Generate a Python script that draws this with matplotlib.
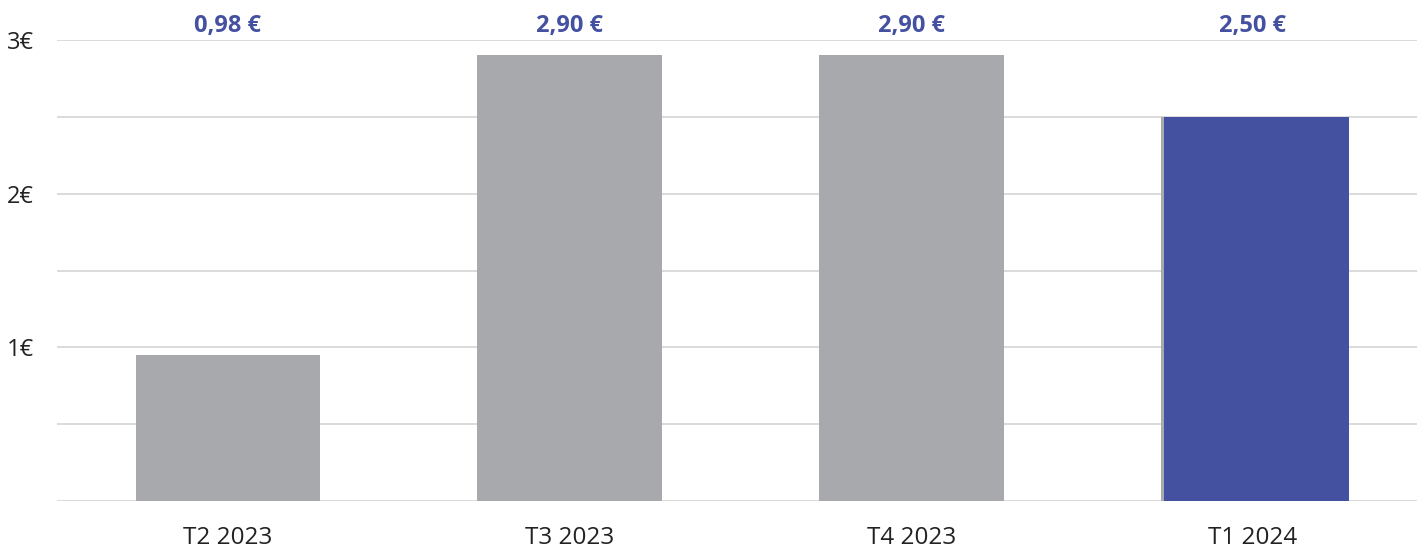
import matplotlib.pyplot as plt
import numpy as np

quarters = ["T2 2023", "T3 2023", "T4 2023", "T1 2024"]
values = [0.95, 2.90, 2.90, 2.50]
value_labels = ["0,98 €", "2,90 €", "2,90 €", "2,50 €"]
highlight = 3

plt.rcParams['font.family'] = ['Open Sans', 'DejaVu Sans']

fig = plt.figure(figsize=(14.17, 5.48), dpi=100)
ax = fig.add_axes([57 / 1417, 1 - 501 / 548, 1 - 57 / 1417, (501 - 40) / 548])

x = np.arange(len(quarters))
grey = "#a8a9ad"
blue = "#4451a0"
ax.bar(x, values, width=0.54, color=grey, zorder=2)
# highlighted quarter drawn over a grey bar, shifted a hair so the grey edge shows
ax.bar(x[highlight] + 0.01, values[highlight], width=0.54, color=blue, zorder=3)

for xi, lab in zip(x, value_labels):
    ax.annotate(lab, (xi, 3.0), xytext=(0, 10), textcoords="offset points",
                ha="center", va="center", fontsize=17, fontweight="bold",
                color=blue, annotation_clip=False)

ax.set_xlim(-0.5, 3.48)
ax.set_ylim(0, 3.0)
ax.set_yticks(np.arange(0, 3.01, 0.5))
ax.set_yticklabels(["" if v % 1 or v == 0 else f"{int(v)}€" for v in np.arange(0, 3.01, 0.5)])
ax.grid(axis="y", color="#d4d4d4", linewidth=1.2, zorder=0)
ax.set_xticks(x)
ax.set_xticklabels(quarters)
ax.tick_params(axis="x", length=0, labelsize=17.5, pad=18, labelcolor="#222222")
ax.tick_params(axis="y", length=0, labelsize=17, labelcolor="#222222")
for lbl in ax.get_yticklabels():
    lbl.set_horizontalalignment("left")
    lbl.set_x(-45 / 1360)
for s in ax.spines.values():
    s.set_visible(False)

fig.savefig("out.png", dpi=100)
